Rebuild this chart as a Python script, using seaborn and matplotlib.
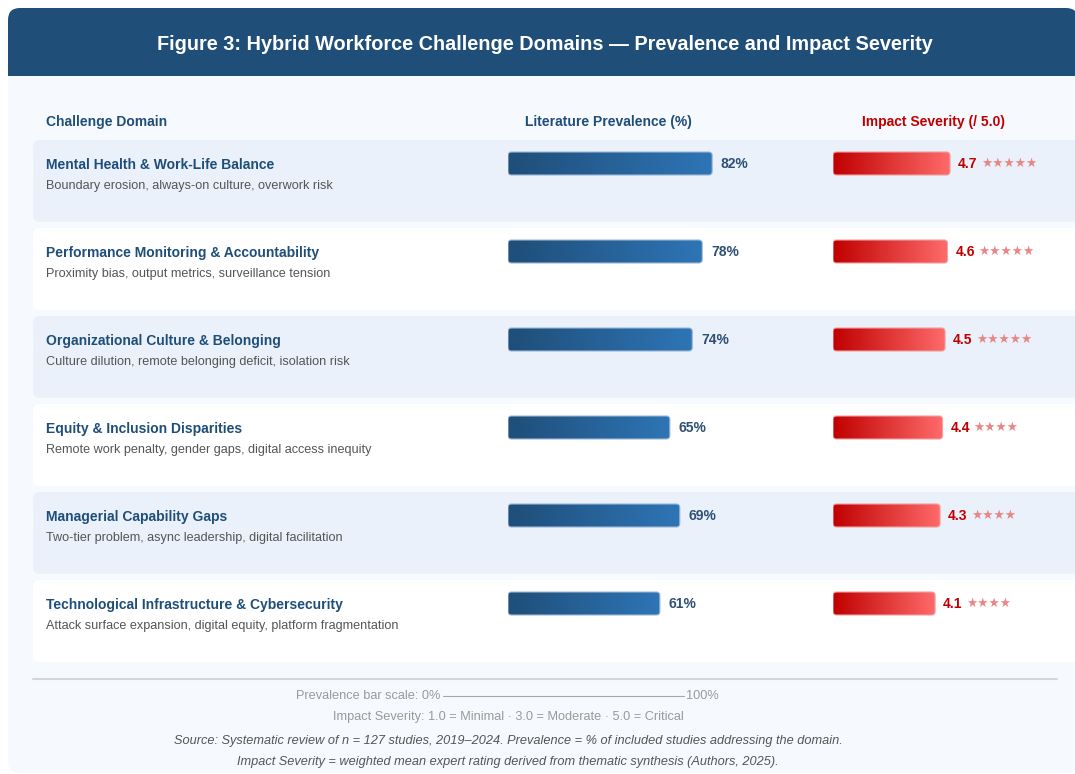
import numpy as np
import pandas as pd
import matplotlib
matplotlib.use("Agg")
import matplotlib.pyplot as plt
from matplotlib.patches import FancyBboxPatch, Rectangle
from matplotlib.colors import LinearSegmentedColormap
import seaborn as sns

# ---------------- data ----------------
domains = [
    "Mental Health & Work-Life Balance",
    "Performance Monitoring & Accountability",
    "Organizational Culture & Belonging",
    "Equity & Inclusion Disparities",
    "Managerial Capability Gaps",
    "Technological Infrastructure & Cybersecurity",
]
descriptions = [
    "Boundary erosion, always-on culture, overwork risk",
    "Proximity bias, output metrics, surveillance tension",
    "Culture dilution, remote belonging deficit, isolation risk",
    "Remote work penalty, gender gaps, digital access inequity",
    "Two-tier problem, async leadership, digital facilitation",
    "Attack surface expansion, digital equity, platform fragmentation",
]
prevalence = [82, 78, 74, 65, 69, 61]
severity = [4.7, 4.6, 4.5, 4.4, 4.3, 4.1]

title = "Figure 3: Hybrid Workforce Challenge Domains \u2014 Prevalence and Impact Severity"
col_headers = ["Challenge Domain", "Literature Prevalence (%)", "Impact Severity (/ 5.0)"]
footer_lines = [
    "Impact Severity: 1.0 = Minimal \u00b7 3.0 = Moderate \u00b7 5.0 = Critical",
    "Source: Systematic review of n = 127 studies, 2019\u20132024. Prevalence = % of included studies addressing the domain.",
    "Impact Severity = weighted mean expert rating derived from thematic synthesis (Authors, 2025).",
]

df = pd.DataFrame({"domain": domains, "prevalence": prevalence, "severity": severity})

# ---------------- style ----------------
sns.set_theme(style="white")
plt.rcParams["font.family"] = ["Liberation Sans", "DejaVu Sans"]

W, H = 1075, 774
fig = plt.figure(figsize=(W / 100, H / 100), dpi=100)
fig.patch.set_facecolor("white")

NAVY = "#1f4e79"
RED = "#c00000"

# main canvas axes in pixel coordinates
ax = fig.add_axes([0, 0, 1, 1])
ax.set_xlim(0, W)
ax.set_ylim(H, 0)
ax.axis("off")

# card background
ax.add_patch(FancyBboxPatch((8, 8), W - 5, H - 9, boxstyle="round,pad=0,rounding_size=12",
                            fc="#f6f9fd", ec="none", zorder=0))
# header band
ax.add_patch(FancyBboxPatch((8, 8), W - 5, 80, boxstyle="round,pad=0,rounding_size=12",
                            fc=NAVY, ec="none", zorder=1))
ax.add_patch(Rectangle((8, 60), W + 20, 16, fc=NAVY, ec="none", zorder=1))
ax.add_patch(Rectangle((8, 76), W + 20, 14, fc="#f6f9fd", ec="none", zorder=1))
ax.text(545, 44, title, color="white", fontsize=14.3, fontweight="bold",
        ha="center", va="center", zorder=3)

# column headers
ax.text(46, 122, col_headers[0], color=NAVY, fontsize=10, fontweight="bold", va="center")
ax.text(608, 122, col_headers[1], color=NAVY, fontsize=10, fontweight="bold", va="center", ha="center")
ax.text(933, 122, col_headers[2], color=RED, fontsize=10, fontweight="bold", va="center", ha="center")

ROW0, PITCH, ROWH = 140, 88, 82
for i, (d, desc) in enumerate(zip(domains, descriptions)):
    top = ROW0 + PITCH * i
    fc = "#eaf1fa" if i % 2 == 0 else "white"
    ax.add_patch(FancyBboxPatch((33, top), W, ROWH, boxstyle="round,pad=0,rounding_size=7",
                                fc=fc, ec="none", zorder=1))
    ax.text(46, top + 25, d, color=NAVY, fontsize=10, fontweight="bold", va="center", zorder=3)
    ax.text(46, top + 46, desc, color="#555555", fontsize=9.05, va="center", zorder=3)

# footer
FS = 9.15
ax.plot([33, 1057], [679, 679], color="#d3d6da", lw=1.5, zorder=2)
ax.text(440, 696, "Prevalence bar scale: 0%", color="#9a9a9a", fontsize=FS, ha="right", va="center")
ax.plot([443, 684], [696, 696], color="#a8a8a8", lw=0.8)
ax.text(686, 696, "100%", color="#9a9a9a", fontsize=FS, ha="left", va="center")
ax.text(508, 717, footer_lines[0], color="#9a9a9a", fontsize=FS, ha="center", va="center")
ax.text(508, 741, footer_lines[1], color="#555555", fontsize=FS, ha="center", va="center", style="italic")
ax.text(508, 762, footer_lines[2], color="#555555", fontsize=FS, ha="center", va="center", style="italic")

# ---------------- bar axes ----------------
center0 = 163.5
y_top = -center0 / PITCH
y_bot = (H - center0) / PITCH
BAR_W = 23 / PITCH


def make_bar_axes(x0_px, width_px):
    a = fig.add_axes([x0_px / W, 0, width_px / W, 1])
    a.patch.set_alpha(0)
    return a


def gradient_bars(a, c0, c1, xmax, width_px, edge):
    pxx = width_px / xmax
    pxy = PITCH
    asp = pxx / pxy
    cmap = LinearSegmentedColormap.from_list("g", [c0, c1])
    grad = np.linspace(0, 1, 256).reshape(1, -1)
    for p in list(a.patches):
        x, y, w, h = p.get_x(), p.get_y(), p.get_width(), p.get_height()
        p.set_visible(False)
        fb = FancyBboxPatch((x, y), w, h, boxstyle=f"round,pad=0,rounding_size={3.5 / pxx}",
                            mutation_aspect=asp, fc="none", ec=edge, lw=0.8, zorder=3,
                            transform=a.transData)
        a.add_patch(fb)
        im = a.imshow(grad, extent=[x, x + w, y + h, y], aspect="auto", cmap=cmap, zorder=2)
        im.set_clip_path(fb)


# prevalence
PX0, PW = 508, 249
ax_p = make_bar_axes(PX0, PW)
sns.barplot(data=df, x="prevalence", y="domain", order=domains, orient="h",
            width=BAR_W, color=NAVY, ax=ax_p)
gradient_bars(ax_p, "#1f4e79", "#2e75b6", 100, PW, "#9db7d3")
for i, v in enumerate(prevalence):
    ax_p.annotate(f"{v}%", (v, i), xytext=(6.3, 0), textcoords="offset points",
                  va="center", ha="left", fontsize=10, fontweight="bold", color="#2f5075")
ax_p.set_xlim(0, 100)
ax_p.set_ylim(y_bot, y_top)
ax_p.axis("off")

# severity
SX0, SW = 833, 124.5
ax_s = make_bar_axes(SX0, SW)
sns.barplot(data=df, x="severity", y="domain", order=domains, orient="h",
            width=BAR_W, color=RED, ax=ax_s)
gradient_bars(ax_s, "#c00000", "#ff6b6b", 5, SW, "#f2a0a0")
for i, v in enumerate(severity):
    t = ax_s.annotate(f"{v:.1f}", (v, i), xytext=(5.8, 0), textcoords="offset points",
                      va="center", ha="left", fontsize=10, fontweight="bold", color=RED)
    n = int(np.floor(v + 0.5))
    ax_s.annotate("\u2605" * n, xy=(1, 0.5), xycoords=t, xytext=(2.5, 0), textcoords="offset points",
                  va="center", ha="left", fontsize=9, color="#e98585",
                  family=["DejaVu Sans"])
ax_s.set_xlim(0, 5)
ax_s.set_ylim(y_bot, y_top)
ax_s.axis("off")

fig.savefig("out.png", dpi=100, facecolor="white")
